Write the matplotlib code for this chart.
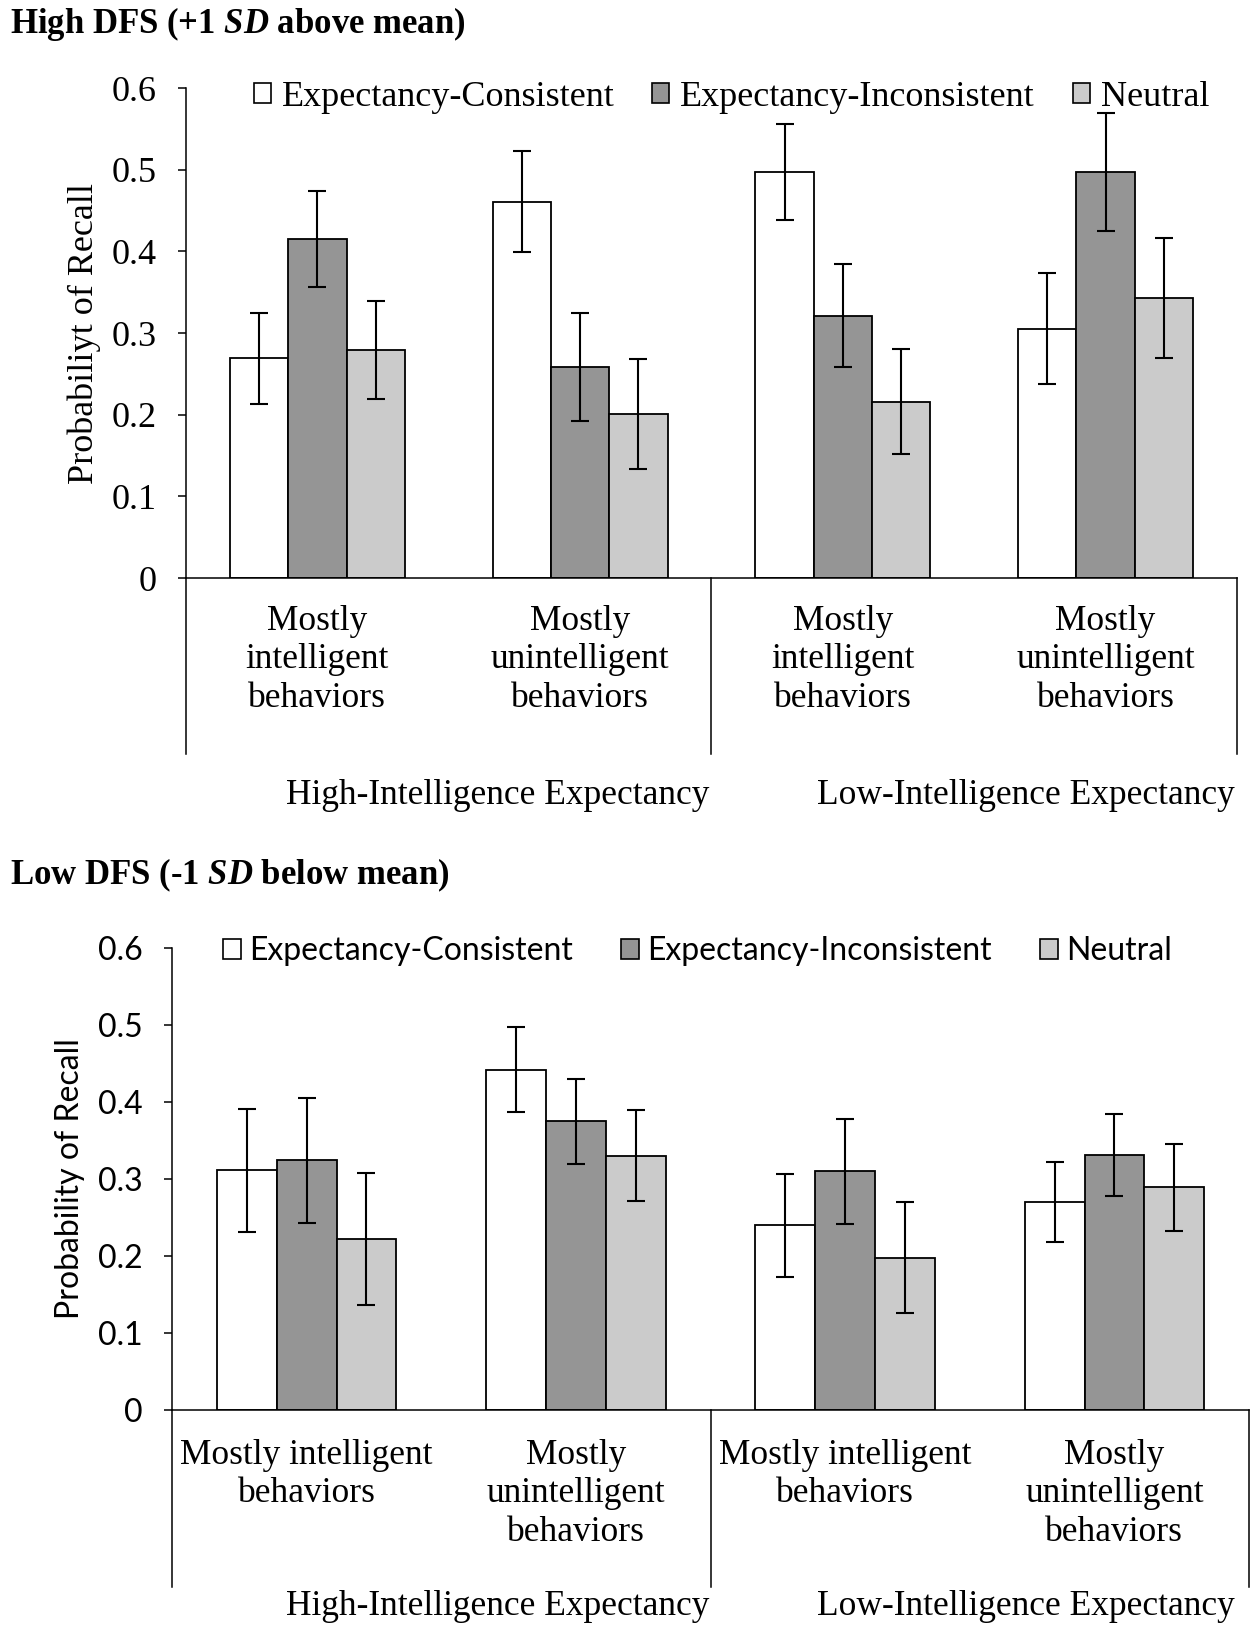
import matplotlib.pyplot as plt
from matplotlib.patches import Patch
import numpy as np

plt.rcParams['font.family'] = 'Liberation Serif'
plt.rcParams['mathtext.fontset'] = 'custom'
plt.rcParams['mathtext.it'] = 'Liberation Serif:italic:bold'
plt.rcParams['mathtext.rm'] = 'Liberation Serif:bold'

# datos
series = ["Expectancy-Consistent", "Expectancy-Inconsistent", "Neutral"]
colors = ["white", "#959595", "#cbcbcb"]
outer_labels = ["High-Intelligence Expectancy", "Low-Intelligence Expectancy"]
yticks = [0, 0.1, 0.2, 0.3, 0.4, 0.5, 0.6]
ytick_labels = ["0", "0.1", "0.2", "0.3", "0.4", "0.5", "0.6"]

# panel superior: High DFS
high_cats = ["Mostly\nintelligent\nbehaviors", "Mostly\nunintelligent\nbehaviors",
             "Mostly\nintelligent\nbehaviors", "Mostly\nunintelligent\nbehaviors"]
high_ec = [0.269, 0.461, 0.497, 0.305]
high_ec_err = [0.056, 0.062, 0.059, 0.068]
high_ei = [0.415, 0.258, 0.321, 0.497]
high_ei_err = [0.059, 0.066, 0.063, 0.072]
high_n = [0.279, 0.201, 0.216, 0.343]
high_n_err = [0.060, 0.067, 0.064, 0.073]

# panel inferior: Low DFS
low_cats = ["Mostly intelligent\nbehaviors", "Mostly\nunintelligent\nbehaviors",
            "Mostly intelligent\nbehaviors", "Mostly\nunintelligent\nbehaviors"]
low_ec = [0.311, 0.442, 0.240, 0.270]
low_ec_err = [0.080, 0.055, 0.067, 0.052]
low_ei = [0.324, 0.375, 0.310, 0.331]
low_ei_err = [0.081, 0.055, 0.068, 0.053]
low_n = [0.222, 0.330, 0.198, 0.289]
low_n_err = [0.086, 0.059, 0.072, 0.057]


def draw_panel(ax, cats, vals, errs, ylabel, tick_font, tick_size, leg_font, leg_size,
               leg_x, leg_y, leg_colsp, leg_hl, leg_pad, cat_y, sep_y, outer_y, outer_x, ylab_x):
    x = np.arange(len(cats))
    w = 0.222
    for k in range(3):
        ax.bar(x + (k - 1) * w, vals[k], w, color=colors[k], edgecolor="black",
               linewidth=1.3, label=series[k], zorder=2)
        ax.errorbar(x + (k - 1) * w, vals[k], yerr=errs[k], fmt="none", ecolor="black",
                    elinewidth=1.5, capsize=6.5, capthick=1.5, zorder=3)
    ax.set_xlim(-0.5, 3.5)
    ax.set_ylim(0, 0.6)
    ax.set_yticks(yticks, ytick_labels)
    ax.set_xticks([])
    for lbl in ax.get_yticklabels():
        lbl.set_fontfamily(tick_font)
        lbl.set_fontsize(tick_size)
    ax.tick_params(axis="y", direction="out", length=6, width=1.1, pad=15)
    for s in ["top", "right"]:
        ax.spines[s].set_visible(False)
    for s in ["left", "bottom"]:
        ax.spines[s].set_linewidth(1.1)

    trans = ax.get_xaxis_transform()
    for xs in [-0.5, 1.5, 3.5]:
        ax.plot([xs, xs], [0, sep_y], color="black", lw=1.1, transform=trans, clip_on=False)
    for i, c in enumerate(cats):
        ax.text(i, cat_y, c, transform=trans, ha="center", va="top", fontsize=25.5,
                linespacing=1.22, multialignment="center")
    for xo, t in zip(outer_x, outer_labels):
        ax.text(xo, outer_y, t, transform=trans, ha="center", va="center", fontsize=25.5)

    ax.set_ylabel(ylabel, fontfamily=tick_font, fontsize=tick_size)
    ax.yaxis.set_label_coords(ylab_x, 0.5)
    ax.yaxis.label.set_va("center")

    handles = [Patch(facecolor=colors[k], edgecolor="black", linewidth=1.2) for k in range(3)]
    ax.legend(handles, series, loc="center", bbox_to_anchor=(leg_x, leg_y),
              ncol=3, frameon=False, prop={"family": leg_font, "size": leg_size},
              handlelength=leg_hl, handleheight=leg_hl, handletextpad=leg_pad,
              columnspacing=leg_colsp, borderaxespad=0, borderpad=0)


fig = plt.figure(figsize=(12.6, 16.37), dpi=100)

ax1 = fig.add_axes([0.1476, 0.6469, 0.8341, 0.2993])
draw_panel(ax1, high_cats, [high_ec, high_ei, high_n], [high_ec_err, high_ei_err, high_n_err],
           "Probabiliyt of Recall", "Liberation Serif", 26, "Liberation Serif", 26,
           0.519, 0.981, 1.05, 0.47, 0.3, -0.055, -0.359, -0.443, [0.687, 2.697], -0.097)

ax2 = fig.add_axes([0.1365, 0.1387, 0.8548, 0.2822])
draw_panel(ax2, low_cats, [low_ec, low_ei, low_n], [low_ec_err, low_ei_err, low_n_err],
           "Probability of Recall", "Lato", 23, "Lato", 23,
           0.488, 0.993, 1.5, 0.57, 0.26, -0.062, -0.383, -0.426, [0.711, 2.672], -0.0947)

fig.text(10 / 1260, 1 - 24 / 1637, "High DFS (+1 $SD$ above mean)", fontsize=25,
         fontweight="bold", ha="left", va="center")
fig.text(10 / 1260, 1 - 875 / 1637, "Low DFS (-1 $SD$ below mean)", fontsize=25,
         fontweight="bold", ha="left", va="center")

fig.savefig("out.png", dpi=100)
